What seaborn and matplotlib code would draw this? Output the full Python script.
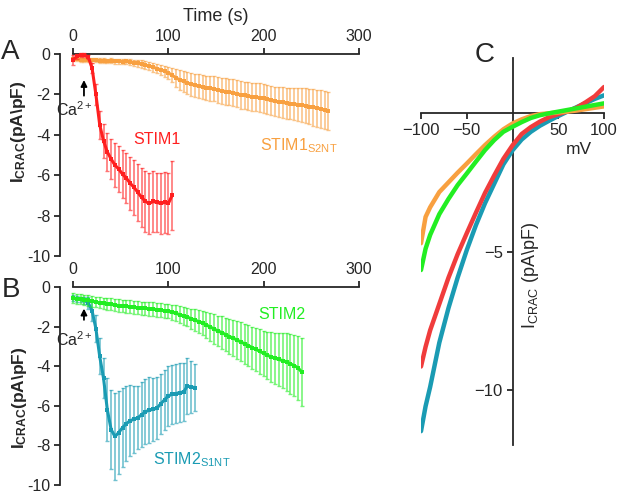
import matplotlib
matplotlib.use("Agg")
import matplotlib.pyplot as plt
import seaborn as sns

# ---------------- data ----------------
# Panel A: STIM1 (red) and STIM1 S2NT (orange), mean +/- sem over time (s)
t_stim1 = [0, 4, 8, 12, 16, 20, 24, 28, 32, 36, 40, 44, 48, 52, 56, 60, 64, 68, 72, 76,
           80, 84, 88, 92, 96, 100, 104]
m_stim1 = [-0.30, -0.12, -0.05, -0.05, -0.15, -0.7, -2.0, -3.5, -4.3, -4.85, -5.2, -5.5,
           -5.7, -5.95, -6.15, -6.4, -6.6, -6.85, -7.1, -7.3, -7.4, -7.3, -7.35, -7.4,
           -7.35, -7.4, -7.0]
e_stim1 = [0.25, 0.12, 0.08, 0.08, 0.1, 0.25, 0.5, 0.7, 0.85, 0.95, 1.0, 1.1, 1.15, 1.2,
           1.25, 1.3, 1.35, 1.4, 1.45, 1.5, 1.5, 1.5, 1.45, 1.5, 1.5, 1.5, 1.7]

t_s2nt = [0, 4, 8, 12, 16, 20, 24, 28, 32, 36, 40, 44, 48, 52, 56, 60, 64, 68, 72, 76,
          80, 84, 88, 92, 96, 100, 104, 108, 112, 116, 120, 124, 128, 132, 136, 140, 144,
          148, 152, 156, 160, 164, 168, 172, 176, 180, 184, 188, 192, 196, 200, 204, 208,
          212, 216, 220, 224, 228, 232, 236, 240, 244, 248, 252, 256, 260, 264, 268]
m_s2nt = [-0.25, -0.25, -0.28, -0.3, -0.3, -0.32, -0.3, -0.33, -0.33, -0.35, -0.34, -0.36,
          -0.36, -0.38, -0.37, -0.4, -0.43, -0.47, -0.5, -0.55, -0.6, -0.65, -0.72, -0.78,
          -0.85, -0.93, -1.05, -1.18, -1.28, -1.36, -1.43, -1.5, -1.55, -1.6, -1.63, -1.67,
          -1.7, -1.73, -1.78, -1.82, -1.86, -1.88, -1.92, -1.97, -2.02, -2.05, -2.08, -2.12,
          -2.14, -2.16, -2.2, -2.25, -2.3, -2.35, -2.37, -2.4, -2.43, -2.46, -2.48, -2.5,
          -2.53, -2.56, -2.6, -2.64, -2.68, -2.72, -2.78, -2.82]
e_s2nt = [0.12, 0.12, 0.12, 0.12, 0.12, 0.12, 0.12, 0.12, 0.12, 0.12, 0.12, 0.12, 0.12,
          0.13, 0.13, 0.14, 0.15, 0.16, 0.18, 0.2, 0.21, 0.22, 0.23, 0.25, 0.28, 0.3, 0.36,
          0.45, 0.5, 0.53, 0.55, 0.57, 0.58, 0.59, 0.6, 0.6, 0.61, 0.62, 0.63, 0.64, 0.66,
          0.66, 0.67, 0.67, 0.68, 0.68, 0.69, 0.69, 0.7, 0.7, 0.71, 0.72, 0.73, 0.74, 0.75,
          0.76, 0.77, 0.78, 0.8, 0.82, 0.84, 0.86, 0.88, 0.9, 0.91, 0.92, 0.94, 0.95]

# Panel B: STIM2 (green) and STIM2 S1NT (teal)
t_stim2 = [0, 4, 8, 12, 16, 20, 24, 28, 32, 36, 40, 44, 48, 52, 56, 60, 64, 68, 72, 76,
           80, 84, 88, 92, 96, 100, 104, 108, 112, 116, 120, 124, 128, 132, 136, 140, 144,
           148, 152, 156, 160, 164, 168, 172, 176, 180, 184, 188, 192, 196, 200, 204, 208,
           212, 216, 220, 224, 228, 232, 236, 240]
m_stim2 = [-0.57, -0.6, -0.62, -0.65, -0.68, -0.72, -0.76, -0.8, -0.83, -0.86, -0.88,
           -0.91, -0.94, -0.96, -0.98, -1.0, -1.03, -1.05, -1.07, -1.08, -1.1, -1.12, -1.14,
           -1.17, -1.2, -1.23, -1.28, -1.33, -1.4, -1.46, -1.52, -1.6, -1.67, -1.75, -1.82,
           -1.92, -2.02, -2.12, -2.22, -2.3, -2.4, -2.5, -2.58, -2.68, -2.77, -2.87, -2.96,
           -3.06, -3.15, -3.25, -3.35, -3.45, -3.53, -3.6, -3.66, -3.72, -3.78, -3.88, -3.97,
           -4.08, -4.3]
e_stim2 = [0.25, 0.25, 0.25, 0.26, 0.26, 0.27, 0.27, 0.28, 0.28, 0.29, 0.3, 0.3, 0.31,
           0.31, 0.32, 0.32, 0.33, 0.33, 0.33, 0.34, 0.34, 0.34, 0.35, 0.35, 0.35, 0.36,
           0.38, 0.4, 0.42, 0.44, 0.46, 0.5, 0.54, 0.58, 0.62, 0.65, 0.7, 0.74, 0.78, 0.82,
           0.85, 0.88, 0.92, 0.95, 0.98, 1.0, 1.03, 1.06, 1.1, 1.12, 1.15, 1.2, 1.25, 1.3,
           1.35, 1.4, 1.45, 1.5, 1.55, 1.62, 1.7]

t_s1nt = [0, 4, 8, 12, 16, 20, 24, 28, 32, 36, 40, 44, 48, 52, 56, 60, 64, 68, 72, 76,
          80, 84, 88, 92, 96, 100, 104, 108, 112, 116, 120, 124, 128]
m_s1nt = [-0.57, -0.6, -0.63, -0.68, -0.8, -1.2, -2.1, -3.5, -4.6, -6.2, -7.2, -7.55,
          -7.35, -7.1, -6.9, -6.75, -6.68, -6.6, -6.45, -6.3, -6.22, -6.18, -6.12, -5.9,
          -5.7, -5.5, -5.42, -5.38, -5.33, -5.3, -5.0, -5.05, -5.08]
e_s1nt = [0.15, 0.15, 0.15, 0.2, 0.3, 0.5, 0.7, 0.9, 1.0, 1.6, 2.0, 2.2, 2.1, 2.0, 1.9,
          1.8, 1.7, 1.6, 1.65, 1.65, 1.65, 1.6, 1.55, 1.5, 1.5, 1.5, 1.5, 1.5, 1.5, 1.45,
          1.4, 1.3, 1.2]

# Panel C: current-voltage relations
mv = [-100, -95, -90, -80, -70, -60, -50, -40, -30, -20, -10, 0, 10, 20, 30, 40, 50, 60,
      70, 80, 90, 100]
iv_s2nt = [-4.7, -3.75, -3.4, -2.85, -2.5, -2.15, -1.82, -1.48, -1.15, -0.85, -0.58,
           -0.37, -0.22, -0.1, -0.03, 0.0, 0.03, 0.06, 0.1, 0.15, 0.2, 0.25]
iv_stim2 = [-5.67, -4.9, -4.4, -3.65, -3.1, -2.6, -2.18, -1.75, -1.33, -0.97, -0.67,
            -0.49, -0.32, -0.17, -0.07, 0.0, 0.06, 0.12, 0.18, 0.24, 0.3, 0.36]
iv_stim1 = [-9.16, -8.45, -7.85, -6.9, -5.95, -5.1, -4.34, -3.6, -2.88, -2.25, -1.65,
            -1.16, -0.75, -0.5, -0.3, -0.14, -0.03, 0.07, 0.2, 0.4, 0.62, 0.95]
iv_s1nt = [-11.5, -10.6, -9.9, -8.3, -7.05, -5.95, -4.95, -4.05, -3.25, -2.55, -1.85,
           -1.34, -0.95, -0.67, -0.45, -0.27, -0.1, 0.06, 0.22, 0.37, 0.52, 0.65]

time_ticks = [0, 100, 200, 300]
cur_ticks = [0, -2, -4, -6, -8, -10]

RED = '#FF1F1F'
ORANGE = '#F8A040'
GREEN = '#22EE22'
TEAL = '#1A9BB3'

# ---------------- style ----------------
sns.set_style("ticks")
plt.rcParams['font.family'] = ['Liberation Sans', 'DejaVu Sans']
plt.rcParams['mathtext.fontset'] = 'custom'
plt.rcParams['mathtext.rm'] = 'Liberation Sans'
plt.rcParams['mathtext.it'] = 'Liberation Sans:italic'
plt.rcParams['mathtext.bf'] = 'Liberation Sans:bold'

fig = plt.figure(figsize=(6.2, 4.93), dpi=100)
W, H = 620, 493
axA = fig.add_axes([73 / W, 1 - 256 / H, 286 / W, 202 / H])
axB = fig.add_axes([73 / W, 1 - 485 / H, 286 / W, 198 / H])
axC = fig.add_axes([421 / W, 1 - 445 / H, 183 / W, 387 / H])


def time_axes(ax):
    ax.set_xlim(0, 300)
    ax.set_ylim(-10, 0)
    ax.xaxis.tick_top()
    ax.xaxis.set_label_position('top')
    ax.spines['bottom'].set_visible(False)
    ax.spines['right'].set_visible(False)
    ax.spines['left'].set_position(('outward', 9.4))
    for s in ['left', 'top']:
        ax.spines[s].set_linewidth(1.3)
    ax.set_xticks(time_ticks)
    ax.set_yticks(cur_ticks)
    ax.set_yticklabels([str(v) for v in cur_ticks])
    ax.tick_params(direction='out', length=4, width=1.3, labelsize=11.5, pad=3)
    ax.set_facecolor('none')


def trace(ax, t, m, e, color, z):
    ax.errorbar(t, m, yerr=e, fmt='none', ecolor=color, elinewidth=1.2, capsize=1.6,
                capthick=1.0, alpha=0.62, zorder=z, clip_on=False)
    sns.lineplot(x=t, y=m, ax=ax, color=color, lw=2.2, marker='s', markersize=2.6,
                 markeredgewidth=0, zorder=z + 0.5, clip_on=False)


# ---------------- panel A ----------------
time_axes(axA)
trace(axA, t_s2nt, m_s2nt, e_s2nt, ORANGE, 2)
trace(axA, t_stim1, m_stim1, e_stim1, RED, 3)
axA.set_xlabel('Time (s)', fontsize=13, labelpad=6)
axA.annotate('', xy=(11.5, -1.15), xytext=(11.5, -2.2),
             arrowprops=dict(arrowstyle='-|>', color='k', lw=1.3, mutation_scale=9))
axA.text(1.6, -2.75, 'Ca$^{\\mathrm{2+}}$', fontsize=11.5, ha='center', va='center')
axA.text(88, -4.25, 'STIM1', color=RED, fontsize=11.5, ha='center', va='center')
axA.text(196, -4.75, 'STIM1$_{\\mathrm{S2NT}}$', color=ORANGE, fontsize=11.5,
         ha='left', va='baseline')

# ---------------- panel B ----------------
time_axes(axB)
trace(axB, t_s1nt, m_s1nt, e_s1nt, TEAL, 2)
trace(axB, t_stim2, m_stim2, e_stim2, GREEN, 3)
axB.annotate('', xy=(11.5, -0.95), xytext=(11.5, -1.8),
             arrowprops=dict(arrowstyle='-|>', color='k', lw=1.3, mutation_scale=9))
axB.text(1.6, -2.68, 'Ca$^{\\mathrm{2+}}$', fontsize=11.5, ha='center', va='center')
axB.text(219, -1.41, 'STIM2', color=GREEN, fontsize=11.5, ha='center', va='center')
axB.text(84, -8.95, 'STIM2$_{\\mathrm{S1NT}}$', color=TEAL, fontsize=11.5,
         ha='left', va='baseline')

for ax in (axA, axB):
    ax.set_ylabel('')
fig.text(19 / W, 1 - 132 / H, 'I$_{\\mathbf{CRAC}}$(pA\\pF)', rotation=90,
         fontsize=12.5, fontweight='bold', ha='center', va='center')
fig.text(20 / W, 1 - 398 / H, 'I$_{\\mathbf{CRAC}}$(pA\\pF)', rotation=90,
         fontsize=12.5, fontweight='bold', ha='center', va='center')

# ---------------- panel C ----------------
for y, c in [(iv_s1nt, TEAL), (iv_stim1, '#F03C3C'), (iv_s2nt, ORANGE), (iv_stim2, GREEN)]:
    sns.lineplot(x=mv, y=y, ax=axC, color=c, lw=3.2, zorder=3)
axC.set_xlim(-100, 100)
axC.set_ylim(-12, 2)
axC.spines['left'].set_position('zero')
axC.spines['bottom'].set_position('zero')
axC.spines['right'].set_visible(False)
axC.spines['top'].set_visible(False)
for s in ['left', 'bottom']:
    axC.spines[s].set_linewidth(1.3)
axC.set_xticks([-100, -50, 50, 100])
axC.set_yticks([-5, -10])
axC.tick_params(direction='out', length=4, width=1.3, labelsize=12, pad=3)
axC.set_facecolor('none')
axC.text(72.7, -1.3, 'mV', fontsize=12.5, ha='center', va='center')
axC.text(20, -5.85, 'I$_{\\mathrm{CRAC}}$ (pA\\pF)', fontsize=13, rotation=90,
         ha='center', va='center')

fig.text(10 / W, 1 - 52 / H, 'A', fontsize=20, ha='center', va='center')
fig.text(11 / W, 1 - 290 / H, 'B', fontsize=20, ha='center', va='center')
fig.text(485 / W, 1 - 55 / H, 'C', fontsize=20, ha='center', va='center')

fig.savefig('out.png', dpi=100)
